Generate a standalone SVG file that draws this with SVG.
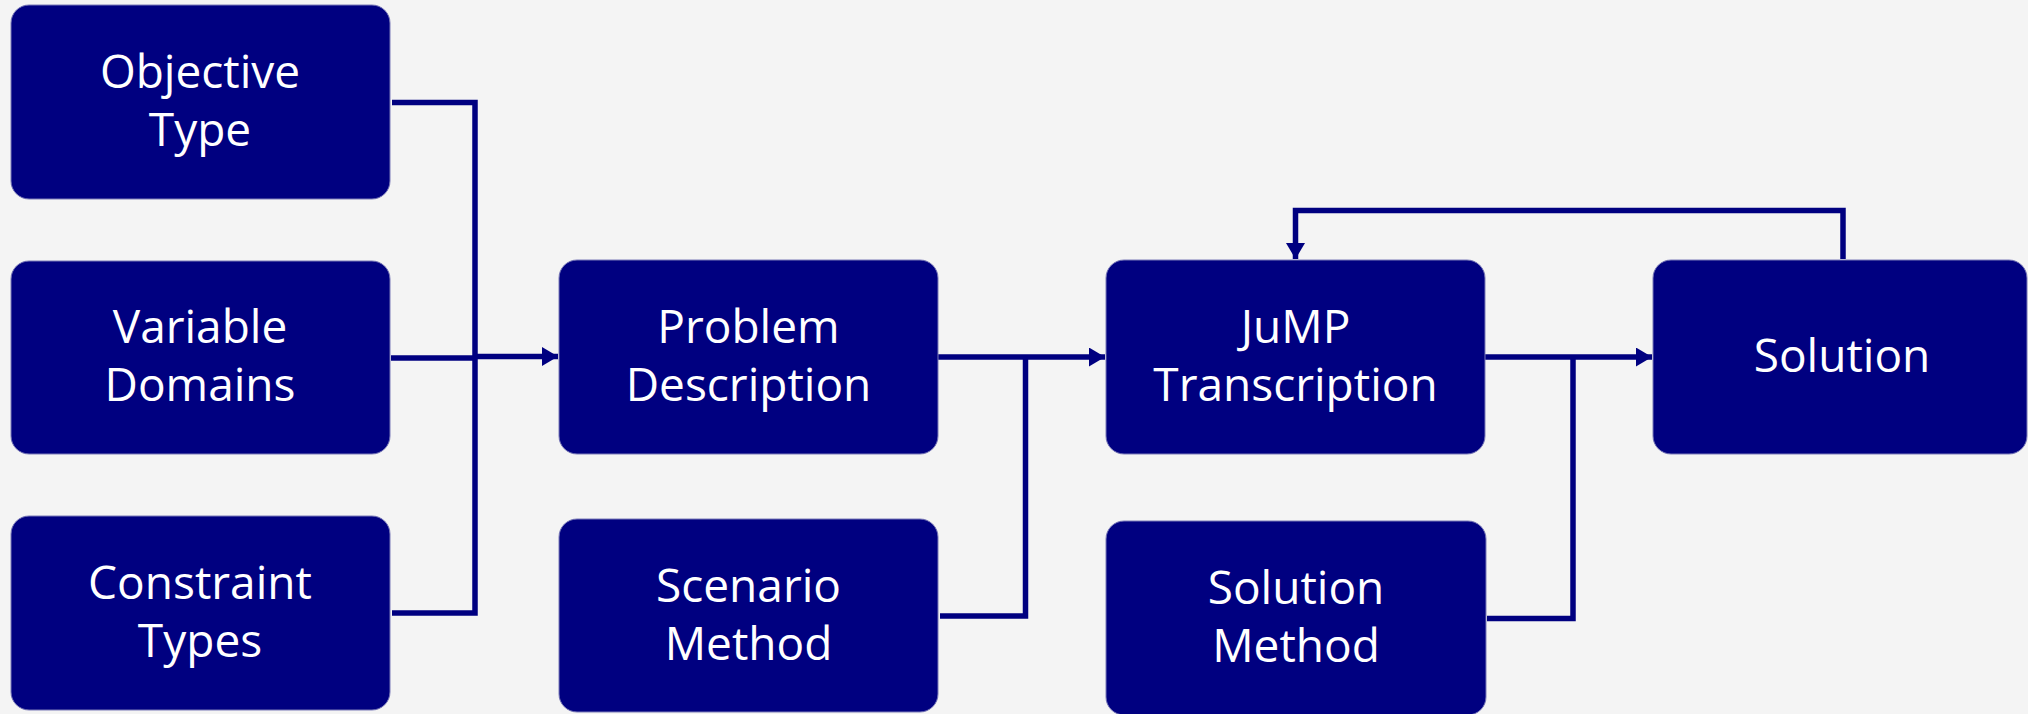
<svg xmlns="http://www.w3.org/2000/svg" width="2028" height="714" viewBox="0 0 2028 714">
  <style>
    .box { fill: #000080; stroke: #7a7ab8; stroke-width: 1; }
    .label { fill: #ffffff; font-family: "Open Sans", "Noto Sans", "DejaVu Sans", sans-serif; font-size: 46px; text-anchor: middle; }
    .wire { fill: none; stroke: #000080; stroke-width: 5.5; stroke-linejoin: miter; stroke-linecap: butt; }
  </style>
  <defs>
    <marker id="arrow" viewBox="0 0 16 19" refX="16" refY="9.5" markerWidth="16" markerHeight="19" markerUnits="userSpaceOnUse" orient="auto">
      <path d="M0,0 L16,9.5 L0,19 Z" fill="#000080"/>
    </marker>
  </defs>

  <rect width="2028" height="714" fill="#f4f4f4"/>

  <!-- connectors -->
  <g id="connectors">
    <!-- inputs gathered into Problem Description -->
    <path class="wire" d="M392,102.5 H475 V613 H392"/>
    <path class="wire" d="M391,358 H475"/>
    <path class="wire" d="M475,356.5 H558" marker-end="url(#arrow)"/>
    <!-- Problem Description + Scenario Method into JuMP Transcription -->
    <path class="wire" d="M938,357 H1105" marker-end="url(#arrow)"/>
    <path class="wire" d="M940,616 H1025.5 V357"/>
    <!-- JuMP Transcription + Solution Method into Solution -->
    <path class="wire" d="M1485,357 H1652" marker-end="url(#arrow)"/>
    <path class="wire" d="M1487,618.5 H1573 V357"/>
    <!-- feedback from Solution back to JuMP Transcription -->
    <path class="wire" d="M1843,259 V210.5 H1295.5 V259" marker-end="url(#arrow)"/>
  </g>

  <g id="objective-type">
    <rect class="box" x="11" y="5" width="379" height="194" rx="18"/>
    <text class="label" x="200" y="88">Objective</text>
    <text class="label" x="200" y="146">Type</text>
  </g>

  <g id="variable-domains">
    <rect class="box" x="11" y="261" width="379" height="193" rx="18"/>
    <text class="label" x="200" y="343">Variable</text>
    <text class="label" x="200" y="401">Domains</text>
  </g>

  <g id="constraint-types">
    <rect class="box" x="11" y="516" width="379" height="194" rx="18"/>
    <text class="label" x="200" y="599">Constraint</text>
    <text class="label" x="200" y="657">Types</text>
  </g>

  <g id="problem-description">
    <rect class="box" x="559" y="260" width="379" height="194" rx="18"/>
    <text class="label" x="748.5" y="343">Problem</text>
    <text class="label" x="748.5" y="401">Description</text>
  </g>

  <g id="scenario-method">
    <rect class="box" x="559" y="519" width="379" height="193" rx="18"/>
    <text class="label" x="748.5" y="602">Scenario</text>
    <text class="label" x="748.5" y="660">Method</text>
  </g>

  <g id="jump-transcription">
    <rect class="box" x="1106" y="260" width="379" height="194" rx="18"/>
    <text class="label" x="1295.5" y="343">JuMP</text>
    <text class="label" x="1295.5" y="401">Transcription</text>
  </g>

  <g id="solution-method">
    <rect class="box" x="1106" y="521" width="380" height="194" rx="18"/>
    <text class="label" x="1296" y="604">Solution</text>
    <text class="label" x="1296" y="662">Method</text>
  </g>

  <g id="solution">
    <rect class="box" x="1653" y="260" width="374" height="194" rx="18"/>
    <text class="label" x="1842" y="372">Solution</text>
  </g>
</svg>
